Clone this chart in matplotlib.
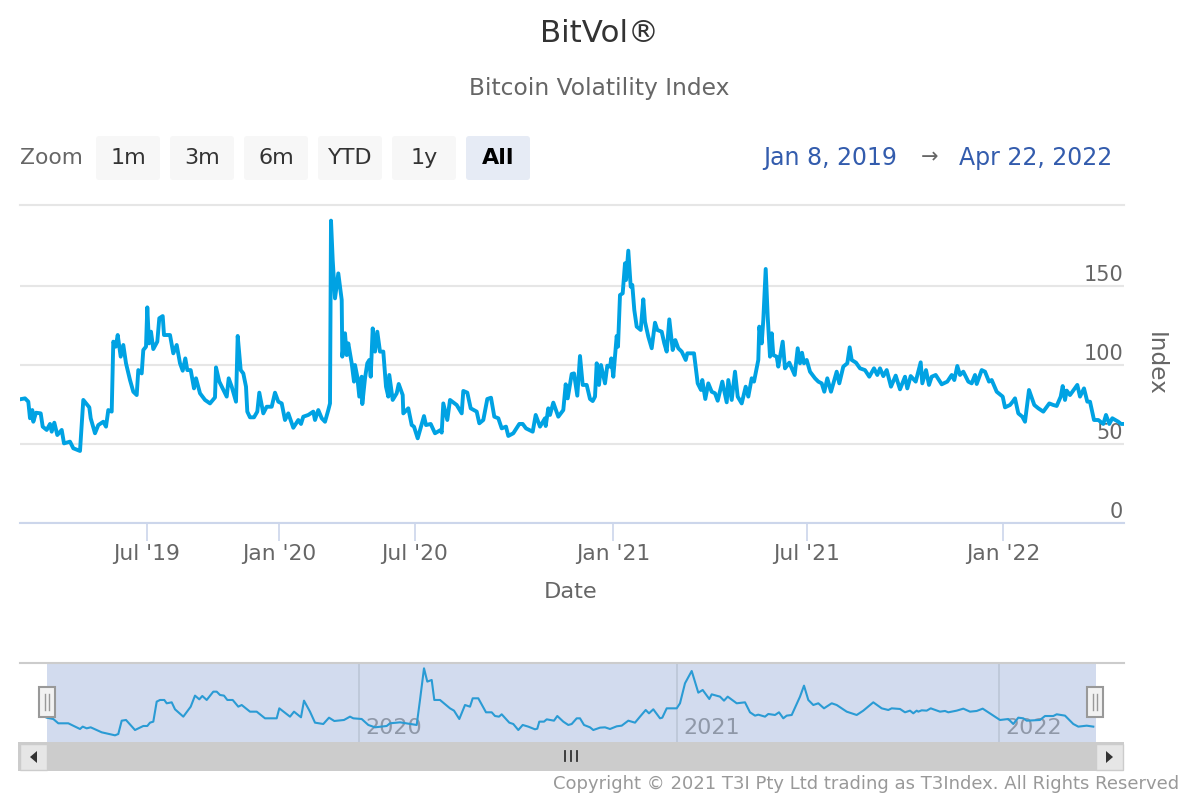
import numpy as np
import matplotlib
matplotlib.use('Agg')
import matplotlib.pyplot as plt
from matplotlib.patches import FancyBboxPatch, Rectangle, Polygon

# ============================
# Data
# ============================
# x is the position along the ordinal axis (the axis skips gaps, so not plain dates)
index_pos = [
    0, 5, 8.3, 10, 12.3, 13.3, 16, 20.7, 22.7, 26.7, 30, 31.7, 34.3, 37.3, 41.7, 44, 50, 53.3, 60, 63.3,
    69.3, 70.7, 75, 78.3, 83.3, 86, 88.3, 91.7, 93.3, 95.7, 97.7, 100.7, 103.3, 106, 110, 113.3, 116.7, 118.3, 121.7, 123.3,
    126, 127.3, 129, 131, 133.3, 137.3, 139.3, 142.7, 144, 150, 153.3, 156.7, 160, 162.7, 165.3, 167.3, 170.7, 174, 176, 180,
    185, 190, 195, 196, 199.3, 202.7, 206.7, 208.7, 211.7, 216, 217.7, 220.7, 223.3, 226, 227.3, 230, 234, 237.3, 239.3, 243.3,
    246.7, 251.7, 255, 258.3, 261.7, 265, 268.3, 273.3, 278.3, 281, 283.3, 288.3, 293.3, 295, 298.3, 301.7, 305, 308.3, 310, 311,
    312.7, 315, 318.3, 321.7, 322.3, 325, 326.7, 328.3, 331.7, 334, 335, 337.3, 339.3, 341.7, 342.3, 345, 347.3, 349.3, 350.7, 352.7,
    355, 357.3, 360, 363.3, 366, 368.3, 369.3, 372.7, 376.7, 378.7,
    382.7, 383.3, 388.3, 391.7, 394, 397.7, 404, 406, 410.7, 415, 420.7, 421.7, 423.3, 427.3, 430, 436.7, 441.7, 443.3, 447.3, 450.7,
    456.7, 459.3, 463.3, 467.3, 471, 474.3, 478.3, 481.7, 486, 488.3, 493.3, 499.3, 502.7, 506, 512.7, 515.7, 520, 525, 525.7, 528.3,
    530, 533.3, 538.3, 543.3, 545.7, 547.7, 551.7, 554, 557.3, 560, 562.7, 566.7, 570, 572.7, 575, 576.7, 579, 581, 585, 587.3,
    590, 591.3, 593.3, 596.7, 598, 600, 602.7, 605, 606, 608.3, 610.7, 612.3, 614.3, 616.7, 620.7, 623.3, 625, 628.3, 631.7, 635,
    637.3, 641.7, 644.3, 646.7, 649.3, 652.7, 655.3, 658.3, 661.7, 665.7, 667.3, 674, 677.7, 681, 682.3, 685.3, 688.3, 691.7, 695, 697.7,
    702.3, 706.7, 708.3, 711.7, 715, 717.7, 721.7, 725.7, 728.3, 731.7, 734, 738.3, 739.3, 741.7, 743.3, 745.7, 747.7, 750, 751.7, 753.3,
    756.7, 758.3, 762.7, 765, 769.3,
    774.7, 777.7, 780, 782, 784, 786.7, 790, 795, 798.3, 801.7, 804.3, 807.3, 811, 816.7, 819.3, 823.3, 827.3, 829.7, 831.7, 836,
    840, 845, 849.3, 854, 857.3, 860, 863.3, 866.7, 871, 875.7, 880, 885, 887.3, 890.7, 895.7, 900.7, 902.3, 906, 909, 911.7,
    915.7, 921.7, 927.3, 931.7, 934.3, 937.3, 940, 943.3, 948.3, 951.7, 955, 956.7, 961.7, 965, 969, 971.7, 976.7, 980.7, 982.7, 985,
    990, 992.7, 995, 998.3, 1002.3, 1005, 1009, 1014.3, 1018.3, 1023.3, 1029.3, 1033.3, 1036.7, 1040.7, 1042.7, 1045, 1046.7, 1050, 1057.3, 1060,
    1064, 1067.3, 1070, 1074, 1078.3, 1083.3, 1086, 1089.3, 1092.3, 1098.3, 1101, 1103.3,
]
index_val = [
    78.3, 78.9, 76.8, 66.3, 71.5, 64.1, 69.8, 69.4, 61, 58.9, 62.7, 57.8, 63.5, 55.7, 58.9, 50.4, 51.5, 47.3, 45.6, 77.9,
    73.2, 66.3, 56.8, 62, 64.1, 61, 71.5, 70.5, 114.8, 111.6, 119, 105.3, 112.7, 101.1, 90.5, 83.1, 81, 96.8, 94.7, 109.5,
    111.6, 136.5, 113.7, 121.1, 110.1, 114.8, 129.6, 131, 119, 119, 107.4, 112.7, 101.1, 96.4, 104.2, 96.8, 96.8, 85.2, 91.6, 82.1,
    77.9, 75.7, 79.5, 98.5, 89.5, 85.2, 80, 91.6, 86.3, 76.8, 118.4, 96.8, 94.7, 86.3, 70.5, 66.9, 66.9, 70.5, 82.5, 69.4,
    73.6, 73.6, 82.5, 76.8, 75.7, 65.2, 69.4, 60.3, 65.2, 62.7, 67.3, 68.4, 70.5, 65.2, 71.5, 66.3, 64.1, 71.5, 75.7, 191.4,
    166.5, 142.2, 158, 141.2, 105.3, 120.1, 106.3, 113.7, 101.1, 89.5, 100, 92.6, 80, 92.6, 75.3, 91.6, 101.1, 103.2, 92.6, 123.2,
    108.5, 121.1, 108.5, 108.5, 86.3, 80, 93.7, 77.9, 82.1, 88,
    81, 69.4, 72.6, 62, 61, 53.6, 67.7, 62, 62.7, 56.8, 58.9, 57.2, 75.7, 65.2, 77.9, 74.7, 69.4, 83.6, 82.5, 72.6,
    70.5, 63.1, 65.2, 78.5, 79.3, 67.3, 66.3, 59.9, 61, 55.1, 56.8, 62.7, 62.7, 59.9, 57.8, 68.4, 61, 66.3, 61.4, 72.6,
    68.4, 76.2, 67.3, 71.5, 87.8, 78.9, 94.3, 94.7, 80.6, 105.7, 87.4, 87.4, 78.5, 77.2, 80, 101.1, 87.4, 100, 88.4, 99.6,
    99, 104.2, 92.6, 118.4, 111.6, 144.3, 145.4, 164.4, 153.8, 172.4, 149.6, 150.7, 134.8, 124.3, 122.2, 141.6, 127.4, 118, 110.6, 126.8,
    122.2, 121.1, 113.7, 108.5, 128.9, 109.5, 115.8, 110.6, 108.5, 103.2, 107.4, 107.4, 88.4, 84.2, 90.5, 78.5, 88.4, 83.1, 82.1, 77.4,
    89.5, 76.4, 90.5, 77.9, 95.8, 80, 75.7, 86.3, 80, 91.6, 89.5, 103.2, 124.3, 113.7, 128.5, 160.8, 130.6, 105.3, 120.1, 106.3,
    105.3, 99, 114.8, 97.9, 101.5,
    93.7, 110.6, 101.1, 107.8, 101.1, 103.2, 95.8, 91.6, 89.5, 88.4, 83.1, 91.6, 83.1, 95.8, 88.4, 99, 101.1, 111.2, 103.2, 101.5,
    97.9, 96.8, 92.6, 97.9, 93.7, 97.9, 93, 96.8, 86.3, 93.3, 84.6, 92.6, 85.2, 93, 89.5, 101.7, 88.4, 96.8, 87.4, 92.6,
    93.7, 87.8, 89.5, 93.7, 90.5, 99.4, 93.7, 95.8, 89.5, 88.4, 93.7, 88, 96.8, 95.8, 89.5, 90.5, 83.1, 81, 80, 73.2,
    74.7, 76.8, 78.9, 69.4, 67.3, 64.1, 84.2, 74.7, 72.6, 70.5, 75.7, 74.7, 74.1, 80, 86.7, 77.9, 83.8, 81, 87.4, 80,
    85.2, 76.8, 76.8, 65.2, 65.2, 62.7, 68.4, 62.7, 66.3, 64.1, 62.7, 62.7,
]

# navigator series is coarser and sits on a plain time scale
nav_pos = [
    26.7, 33.3, 38.3, 48.3, 60, 62.7, 66.7, 70.7, 81.7, 95, 98.3, 101.7, 106, 115, 123.3, 127.3, 130, 133.3, 136.7, 140,
    144.3, 146.7, 151.7, 155, 163.3, 170.7, 175, 179.3, 182.3, 186.7, 193.3, 196.7, 200, 204, 207.3, 212.7, 218.3, 221.7, 230, 236.7,
    245, 256.7, 259.3, 270, 274, 281, 284, 290, 295, 303.3, 309, 314.3, 324, 330, 333.3, 341.7, 348.3, 355, 366.7, 370, 380,
    396.7, 400, 404, 407.3, 411.7, 414.3, 420, 430, 434, 439.3, 445, 450, 452.7, 458.3, 466, 471.7, 475, 479, 481.7,
    489.3, 493.3, 498.3, 502.7, 508.3, 515, 517.3, 519.3, 524, 526.7, 534, 537.3, 543.3, 548.3, 551.7, 556.7, 560, 564, 570, 573.3,
    580, 585, 590, 596.7, 601.7, 608.3, 615, 620, 625.7, 629, 633.3, 640, 642.3, 646.7, 656.7, 660, 665, 671.7, 678.3, 682.7,
    689.3, 691.7, 700, 704, 707.7, 716.7, 725, 730, 735, 738.3, 745, 748.3, 755, 759, 763.3, 766.7, 771.7, 780,
    784, 788.3, 793.3, 798.3, 804, 811.7, 816.7, 826.7, 836.7, 843.3, 853.3, 861.7, 868.3, 871.7, 880, 885, 890, 893.3, 896.7, 898.3,
    901.7, 906.7, 910.7, 920, 925, 928.3, 936.7, 943.3, 950, 956.7, 962.7, 968.3, 980, 988.3, 993.3, 998.3, 1003.3, 1006.7, 1020, 1025,
    1033.3, 1036.7, 1045, 1053.3, 1058.3, 1066.7, 1073.3,
]
nav_val = [
    82.5, 79.6, 70.3, 70.3, 58, 63.1, 59.4, 61.6, 50.8, 44.3, 47.2, 76, 77.5, 55.8, 64.5, 64.5, 71.7, 73.9, 117.2, 120.8,
    120.8, 113.6, 115.7, 100.6, 84.7, 106.3, 130.2, 122.2, 129.4, 120.8, 138.8, 138.8, 131.6, 130.2, 120.8, 120.8, 106.3, 109.9, 95.5, 95.5,
    81.1, 81.1, 102.7, 84.7, 95.5, 83.3, 119.3, 95.5, 71.7, 68.8, 82.5, 75.3, 77.5, 84.7, 81.1, 79.6, 66.7, 61.6, 64.5, 70.3, 72.4,
    66.7, 120.8, 189.3, 160.5, 164.1, 120.8, 120.8, 102.7, 97.7, 79.6, 109.9, 106.3, 124.4, 124.4, 94.1, 94.1, 86.1, 84.7, 89.8,
    71.7, 68.8, 55.8, 66.7, 63.1, 57.3, 58.7, 73.9, 73.9, 78.9, 76, 86.1, 73.9, 66.7, 68.8, 81.1, 81.1, 66.7, 61.6, 55.8,
    60.9, 61.6, 58, 63.8, 65.2, 76, 71.7, 84.7, 99.1, 91.9, 100.6, 81.1, 82.5, 102.7, 102.7, 113.6, 156.9, 183.5, 136.6, 142.4,
    122.9, 133, 128, 119.3, 128, 113.6, 115.7, 94.1, 86.9, 89, 84.7, 90.5, 88.3, 94.1, 81.1, 86.9, 88.3, 128,
    151.8, 120.8, 109.9, 113.6, 102.7, 113.6, 109.9, 95.5, 88.3, 97.7, 115.7, 102.7, 99.1, 102.7, 101.3, 94.1, 97.7, 91.9, 97.7, 95.5,
    98.4, 97.7, 102.7, 95.5, 97, 94.1, 97.7, 102, 95.5, 97, 102, 94.1, 77.5, 79.6, 68.8, 82.5, 81.1, 76, 77.5, 86.1,
    86.1, 89.8, 86.9, 68.8, 63.1, 65.2, 63.1,
]

x_tick_pos = [127, 259, 395, 593, 787, 983]
x_tick_labels = ["Jul '19", "Jan '20", "Jul '20", "Jan '21", "Jul '21", "Jan '22"]
y_ticks = [0, 50, 100, 150]
nav_tick_pos = [339, 657, 979]
nav_tick_labels = ['2020', '2021', '2022']
zoom_labels = ['1m', '3m', '6m', 'YTD', '1y', 'All']

W, H = 1200, 800
TEXT = '#666666'
LINE = '#00a2e3'

fig = plt.figure(figsize=(12, 8), dpi=100)


def px_axes(left, top, right, bottom, **kw):
    return fig.add_axes([left / W, 1 - bottom / H, (right - left) / W, (bottom - top) / H], **kw)


# ============================
# Main chart
# ============================
ax = px_axes(20, 205, 1124, 523)
ax.plot(index_pos, index_val, color=LINE, lw=2.8, solid_joinstyle='round', zorder=3)
ax.set_xlim(0, 1104)
ax.set_ylim(0, 201.3)
ax.set_yticks(y_ticks)
ax.set_yticklabels([])
ax.grid(True, axis='y', color='#e6e6e6', lw=1.5)
ax.set_axisbelow(True)
ax.set_xticks(x_tick_pos)
ax.set_xticklabels(x_tick_labels, fontsize=15.7, color=TEXT)
ax.tick_params(axis='x', length=13, width=1.2, color='#ccd6eb', pad=2)
ax.tick_params(axis='y', length=0)
for s in ['left', 'right']:
    ax.spines[s].set_visible(False)
ax.spines['top'].set_color('#e6e6e6')
ax.spines['top'].set_linewidth(1.5)
ax.spines['bottom'].set_color('#ccd6eb')
ax.spines['bottom'].set_linewidth(1.5)
for t in y_ticks:
    ax.annotate(str(t), (1104, t), xytext=(-0.5, 3.6), textcoords='offset points', ha='right', va='baseline',
                fontsize=15, color=TEXT, zorder=1)

# ============================
# Navigator
# ============================
nav = px_axes(20, 663, 1124, 742)
nav.axvspan(27, 1076, color='#d2dbee', lw=0, zorder=1)
for p, lab in zip(nav_tick_pos, nav_tick_labels):
    nav.axvline(p, color='#bcc6d6', lw=1.2, zorder=2)
    nav.annotate(lab, (p, 0), xycoords=('data', 'axes fraction'), xytext=(4.5, 3), textcoords='offset points',
                 fontsize=16, color='#8f98a8', ha='left', va='bottom', zorder=2)
nav.plot(nav_pos, nav_val, color='#2a9bd4', lw=1.5, zorder=3)
nav.set_xlim(0, 1104)
nav.set_ylim(29.85, 200.8)
nav.set_xticks([])
nav.set_yticks([])
for s in ['left', 'right', 'bottom']:
    nav.spines[s].set_visible(False)
nav.spines['top'].set_color('#cccccc')
nav.spines['top'].set_linewidth(1.5)

# ============================
# Page furniture in pixel coordinates
# ============================
ui = fig.add_axes([0, 0, 1, 1], zorder=5)
ui.set_xlim(0, W)
ui.set_ylim(H, 0)
ui.axis('off')
ui.patch.set_alpha(0)

ui.text(599, 33, 'BitVol®', fontsize=22.2, color='#333333', ha='center', va='center')
ui.text(599, 89, 'Bitcoin Volatility Index', fontsize=16.8, color=TEXT, ha='center', va='center')
ui.text(20, 158.5, 'Zoom', fontsize=15.7, color=TEXT, ha='left', va='center')

for i, lab in enumerate(zoom_labels):
    x0 = 96 + i * 74
    active = lab == 'All'
    ui.add_patch(FancyBboxPatch((x0 + 3, 139), 58, 38, boxstyle='round,pad=3', lw=0,
                                fc='#e6ebf5' if active else '#f7f7f7'))
    ui.text(x0 + 32, 158.5, lab, fontsize=16, ha='center', va='center',
            color='black' if active else '#333333', fontweight='bold' if active else 'normal')

ui.text(830, 158, 'Jan 8, 2019', fontsize=17, color='#335cad', ha='center', va='center')
ui.text(930, 157, '→', fontsize=15, color=TEXT, ha='center', va='center')
ui.text(1036, 158, 'Apr 22, 2022', fontsize=17, color='#335cad', ha='center', va='center')
ui.text(571, 592, 'Date', fontsize=16.2, color=TEXT, ha='center', va='center')
ui.text(1155, 364, 'Index', fontsize=16.7, color=TEXT, ha='center', va='center', rotation=270)

# scrollbar
ui.add_patch(Rectangle((18, 742), 1106, 29, fc='#cccccc', lw=0))
for x0 in [19.5, 1096]:
    ui.add_patch(Rectangle((x0, 743.5), 27, 26, fc='#e6e6e6', ec='#cccccc', lw=1))
ui.add_patch(Polygon([[37, 751], [37, 763], [30, 757]], fc='#333333', lw=0))
ui.add_patch(Polygon([[1106, 751], [1106, 763], [1113, 757]], fc='#333333', lw=0))
for x0 in [565, 571, 577]:
    ui.plot([x0, x0], [751, 761], color='#333333', lw=1.3)

# navigator handles
for xc in [47, 1095]:
    ui.add_patch(Rectangle((xc - 8, 687), 16, 30, fc='#f2f2f2', ec='#999999', lw=1.5))
    for dx in [-2, 2]:
        ui.plot([xc + dx, xc + dx], [694, 710], color='#999999', lw=1)

ui.text(1179, 784, 'Copyright © 2021 T3I Pty Ltd trading as T3Index. All Rights Reserved',
        fontsize=13, color='#999999', ha='right', va='center')

plt.savefig('out.png', dpi=100)
